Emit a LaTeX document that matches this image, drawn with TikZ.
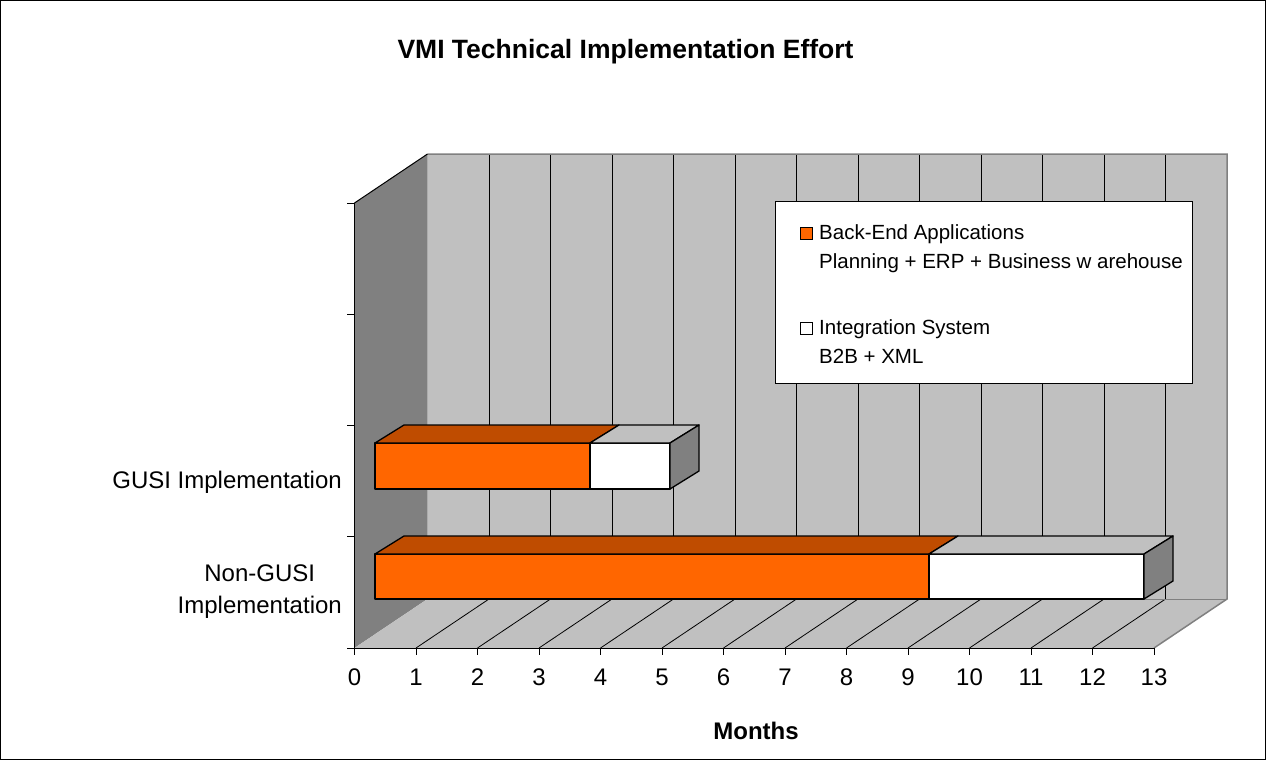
\documentclass[tikz,border=0pt]{standalone}
\usepackage{fontspec}
\setmainfont{Liberation Sans}
\definecolor{orng}{HTML}{FF6600}
\definecolor{orngdk}{RGB}{191,76,0}
\definecolor{wgray}{HTML}{C0C0C0}
\definecolor{dgray}{HTML}{808080}
\begin{document}
\begin{tikzpicture}[x=1pt,y=-1pt,
  barline/.style={draw=black,line width=1.3pt,line join=round},
  gridln/.style={draw=black,line width=0.8pt},
  lbl/.style={inner sep=0pt,font=\fontsize{24}{28}\selectfont},
  legtxt/.style={inner sep=0pt,anchor=base west,font=\fontsize{20.5}{24}\selectfont},
  legsq/.style={draw=black,line width=1pt,minimum size=12pt,inner sep=0pt}]
\useasboundingbox (0,0) rectangle (1266,760);
\draw[black,line width=1pt] (0.5,0.5) rectangle (1265.5,759.5);
% walls
\fill[dgray] (354.5,203) -- (427.5,154) -- (427.5,599) -- (354.5,648) -- cycle;
\fill[wgray] (427.5,154) rectangle (1227,599);
\fill[wgray] (354.5,648) -- (427.5,599) -- (1227,599) -- (1154,648) -- cycle;
\foreach \k in {1,...,12}{
  \draw[gridln] ({427.5+61.5*\k},154) -- ({427.5+61.5*\k},599);
  \draw[gridln] ({354.5+61.5*\k},648) -- ({427.5+61.5*\k},599);
}
\draw[dgray,line width=1.5pt,line join=miter] (427.5,154) -- (1227,154) -- (1227,599) -- (1154,648);
\draw[dgray,line width=1pt] (427.5,599) -- (1227,599);
\draw[black,line width=1pt] (354.5,203) -- (427.5,154);
% axes
\draw[black,line width=1pt] (354.5,203) -- (354.5,648);
\draw[black,line width=1pt] (347,648) -- (1154,648);
\foreach \k in {0,...,4}{
  \draw[black,line width=1pt] (347,{648-111.25*\k}) -- (354.5,{648-111.25*\k});
}
\foreach \k in {0,...,13}{
  \draw[black,line width=1pt] ({354.5+61.5*\k},648) -- ({354.5+61.5*\k},655);
  \node[lbl,anchor=base] (t\k) at ({354.5+61.5*\k},685) {\k};
}
% Non-GUSI bar
\path[barline,fill=orng] (375,554) rectangle (929,599);
\path[barline,fill=white] (929,554) rectangle (1144,599);
\path[barline,fill=orngdk] (375,554) -- (404,536) -- (958,536) -- (929,554) -- cycle;
\path[barline,fill=wgray] (929,554) -- (958,536) -- (1173,536) -- (1144,554) -- cycle;
\path[barline,fill=dgray] (1144,554) -- (1173,536) -- (1173,581) -- (1144,599) -- cycle;
% GUSI bar
\path[barline,fill=orng] (375,443) rectangle (590,489);
\path[barline,fill=white] (590,443) rectangle (670,489);
\path[barline,fill=orngdk] (375,443) -- (404,425) -- (619,425) -- (590,443) -- cycle;
\path[barline,fill=wgray] (590,443) -- (619,425) -- (699,425) -- (670,443) -- cycle;
\path[barline,fill=dgray] (670,443) -- (699,425) -- (699,471) -- (670,489) -- cycle;
% category labels
\node[lbl,anchor=base east] (gusi) at (342,488) {GUSI Implementation};
\node[lbl,anchor=base east] (ngusi2) at (342,613) {Implementation};
\node[lbl,anchor=base] (ngusi1) at ([yshift=32pt]ngusi2.base) {Non-GUSI};
% title and axis title
\node[inner sep=0pt,anchor=base,font=\bfseries\fontsize{26.5}{30}\selectfont] (title) at (625.5,59) {VMI Technical Implementation Effort};
\node[inner sep=0pt,anchor=base,font=\bfseries\fontsize{24}{28}\selectfont] (months) at (756,739) {Months};
% legend
\node[draw=black,line width=1pt,fill=white,anchor=north west,minimum width=417pt,minimum height=182pt,inner sep=0pt] (legend) at (775,201) {};
\node[legsq,fill=orng] (sq1) at (806,233) {};
\node[legtxt] (l1a) at (819,239) {Back-End Applications};
\node[legtxt] (l1b) at (819,268) {Planning + ERP + Business w arehouse};
\node[legsq,fill=white] (sq2) at (806,328) {};
\node[legtxt] (l2a) at (819,334) {Integration System};
\node[legtxt] (l2b) at (819,363) {B2B + XML};
\end{tikzpicture}
\end{document}
